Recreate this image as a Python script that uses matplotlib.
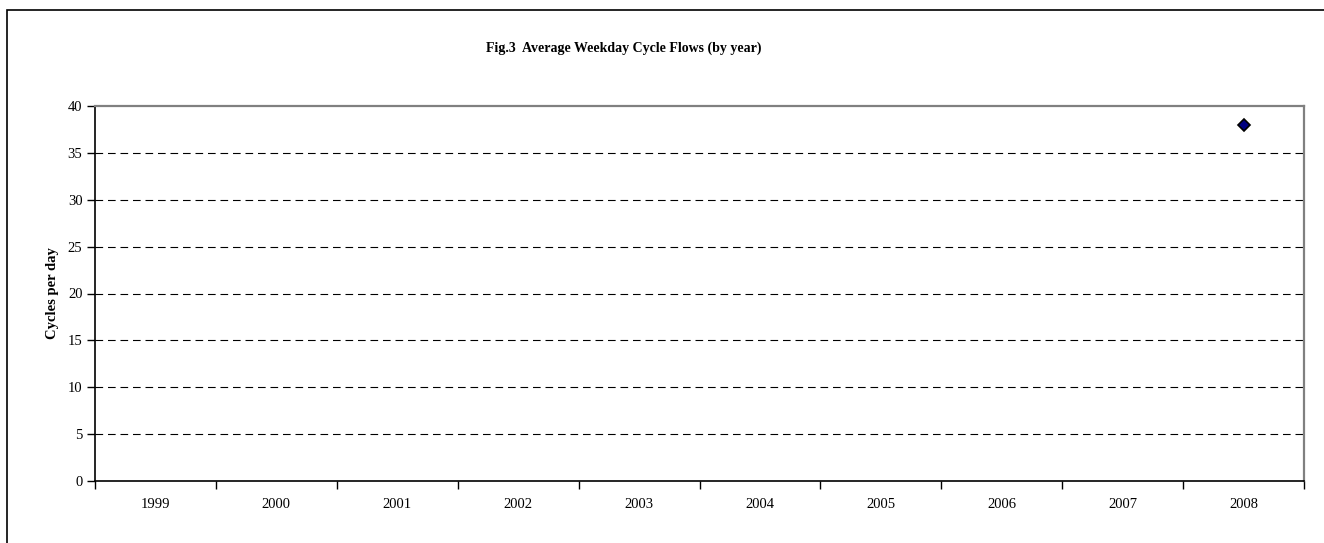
import numpy as np
import matplotlib
matplotlib.use("Agg")
import matplotlib.pyplot as plt
from matplotlib.patches import Rectangle

# Data: only 2008 has a value.
years = ["1999", "2000", "2001", "2002", "2003", "2004", "2005", "2006", "2007", "2008"]
cycles = [np.nan, np.nan, np.nan, np.nan, np.nan, np.nan, np.nan, np.nan, np.nan, 38]
y_ticks = [0, 5, 10, 15, 20, 25, 30, 35, 40]

plt.rcParams["font.family"] = ["Liberation Serif", "DejaVu Serif"]
plt.rcParams["lines.scale_dashes"] = False

fig = plt.figure(figsize=(13.24, 5.43), dpi=100)
ax = fig.add_axes([95 / 1324, 1 - 481 / 543, 1209 / 1324, 375 / 543])

x = np.arange(len(years))

# Dashed horizontal gridlines.
for v in y_ticks[1:-1]:
    ax.axhline(v, color="black", linewidth=0.8, linestyle=(0, (5.5, 3.5)), zorder=1)

# The single data point.
ax.plot(x, cycles, linestyle="none", marker="D", markersize=6,
        markerfacecolor="#000080", markeredgecolor="black", markeredgewidth=1.2, zorder=3)

ax.set_xlim(-0.5, len(years) - 0.5)
ax.set_ylim(0, 40)
ax.set_yticks(y_ticks)
ax.set_yticklabels([str(v) for v in y_ticks], fontsize=10.5)

# Category axis: ticks at boundaries, labels at centres.
ax.set_xticks(np.arange(-0.5, len(years), 1.0))
ax.set_xticklabels([])
ax.set_xticks(x, minor=True)
ax.set_xticklabels(years, minor=True, fontsize=10.5)
ax.tick_params(axis="x", which="major", length=6, width=1, color="black", direction="out")
ax.tick_params(axis="x", which="minor", length=0, pad=12)
ax.tick_params(axis="y", length=6, width=1, color="black", direction="out", pad=3)

ax.spines["left"].set_color("black")
ax.spines["bottom"].set_color("black")
ax.spines["left"].set_linewidth(1.2)
ax.spines["bottom"].set_linewidth(1.2)
ax.spines["top"].set_color("#808080")
ax.spines["right"].set_color("#808080")
ax.spines["top"].set_linewidth(1.6)
ax.spines["right"].set_linewidth(1.6)

ax.set_ylabel("Cycles per day", fontsize=10.5, fontweight="bold", labelpad=6)

fig.text(624 / 1324, 1 - 48 / 543, "Fig.3  Average Weekday Cycle Flows (by year)",
         ha="center", va="center", fontsize=10, fontweight="bold")

# Outer chart border (runs off the right and bottom edges).
fig.patches.append(Rectangle((7 / 1324, -0.05), 1.05, 1 - 10 / 543 + 0.05,
                             transform=fig.transFigure, fill=False,
                             edgecolor="black", linewidth=1.2))

fig.savefig("out.png", dpi=100)
